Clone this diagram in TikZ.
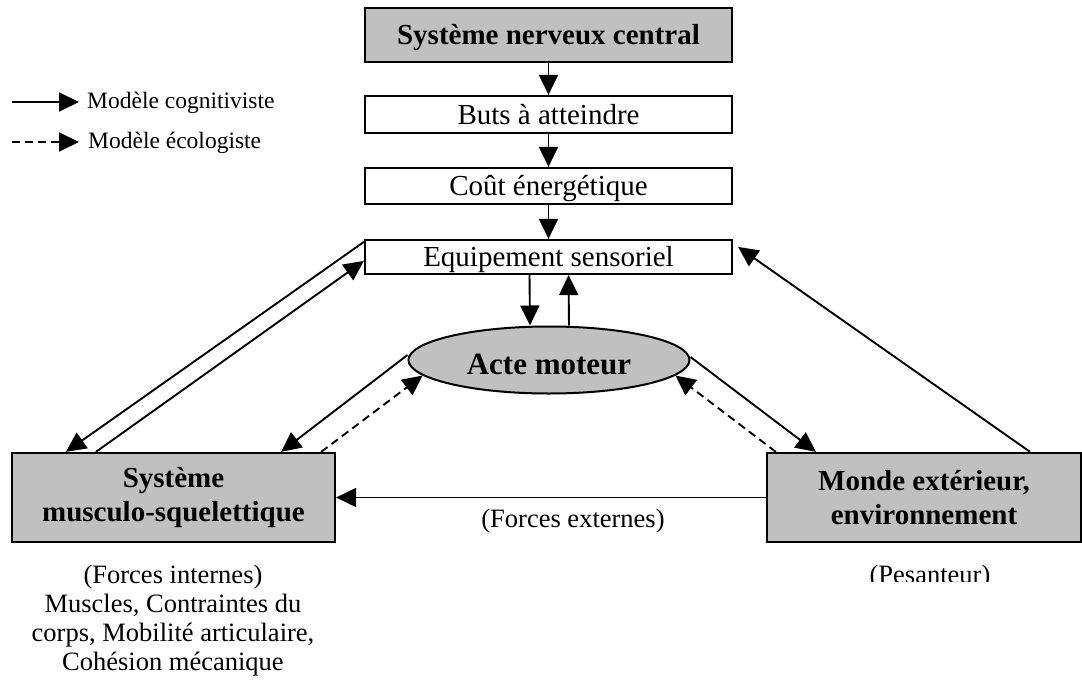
\documentclass[tikz,border=0pt]{standalone}
\usepackage{fontspec}
\setmainfont{Liberation Serif}
\usetikzlibrary{arrows.meta,shapes.geometric,calc}
\definecolor{boxgray}{RGB}{192,192,192}
\begin{document}
\begin{tikzpicture}[x=1pt,y=-1pt,
  arr/.style={line width=1.9pt,-{Triangle[length=20pt,width=19pt]}},
  dsh/.style={arr,dash pattern=on 8pt off 5pt},
  rectbox/.style={draw,line width=2.2pt,rectangle,inner sep=0pt,minimum width=367pt,text height=19pt,text depth=0pt,font=\fontsize{29pt}{34pt}\selectfont},
  gbox/.style={draw,line width=2.2pt,fill=boxgray,rectangle,inner sep=0pt,align=center,font=\bfseries\fontsize{29pt}{34pt}\selectfont},
  lbl/.style={inner sep=0pt,font=\fontsize{26.5pt}{29pt}\selectfont,align=center},
  leg/.style={inner sep=0pt,font=\fontsize{23.5pt}{26pt}\selectfont}]
\useasboundingbox (0,0) rectangle (1082,680);

% main column
\node[rectbox,fill=boxgray,font=\bfseries\fontsize{29pt}{34pt}\selectfont,minimum height=54pt] (snc) at (548.5,35) {Système nerveux central};
\node[rectbox,minimum height=37pt] (buts) at (548.5,114.5) {Buts à atteindre};
\node[rectbox,minimum height=36pt] (cout) at (548.5,186) {Coût énergétique};
\node[rectbox,minimum height=34pt] (equip) at (548.5,257) {Equipement sensoriel};
\node[ellipse,draw,line width=2pt,fill=boxgray,minimum width=281pt,minimum height=67pt,inner sep=0pt,text height=28pt,text depth=0pt,font=\bfseries\fontsize{31pt}{36pt}\selectfont] (acte) at (549,360) {Acte moteur};

% bottom boxes
\node[gbox,minimum width=323pt,minimum height=89pt] (msk) at (173.5,497.5) {Système\\musculo-squelettique};
\node[gbox,minimum width=314pt,minimum height=89pt] (monde) at (924,497.5) {Monde extérieur,\\environnement};

% vertical arrows
\draw[arr] (snc) -- (buts);
\draw[arr] (buts) -- (cout);
\draw[arr] (cout) -- (equip);
\draw[arr] ([xshift=-19pt]equip.south) -- ([xshift=-19pt]acte.north);
\draw[arr] ([xshift=20pt]acte.north) -- ([xshift=20pt]equip.south);

% left diagonals
\draw[arr] ([yshift=-3pt]equip.north west) -- ([xshift=55pt]msk.north west);
\draw[arr] ([xshift=85pt]msk.north west) -- ([yshift=-22pt]equip.north west);
\draw[arr] ([yshift=5pt]acte.west) -- ([xshift=-55pt]msk.north east);
\draw[dsh] ([xshift=-15pt]msk.north east) -- (acte.187);

% right diagonals
\draw[arr] ([yshift=3pt]acte.east) -- ([xshift=50pt]monde.north west);
\draw[dsh] ([xshift=10pt]monde.north west) -- (acte.-7);
\draw[arr] ([xshift=-52pt]monde.north east) -- ([xshift=5pt,yshift=-8pt]equip.north east);

% horizontal
\draw[arr] (monde.west) -- (msk.east);

% labels
\node[lbl,anchor=base] (fext) at (573,527) {(Forces externes)};
\begin{scope}
\clip (800,540) rectangle (1060,581.5);
\node[lbl,anchor=base] (pes) at (930,583) {(Pesanteur)};
\end{scope}
\node[lbl,anchor=north] (fint) at (173,565) {(Forces internes)\\Muscles, Contraintes du\\corps, Mobilité articulaire,\\Cohésion mécanique};

% legend
\coordinate (c1a) at (12,102);
\coordinate (c1b) at (79,102);
\draw[arr] (c1a) -- (c1b);
\node[leg,anchor=base west] (l1) at (87,108) {Modèle cognitiviste};
\coordinate (c2a) at (12,142);
\coordinate (c2b) at (79,142);
\draw[dsh] (c2a) -- (c2b);
\node[leg,anchor=base west] (l2) at (88,148) {Modèle écologiste};
\end{tikzpicture}
\end{document}
